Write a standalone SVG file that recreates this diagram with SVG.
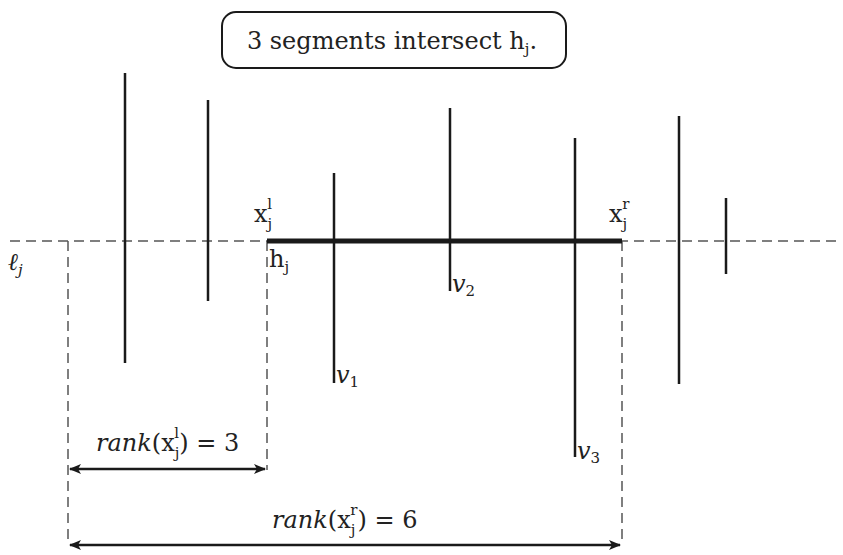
<svg xmlns="http://www.w3.org/2000/svg" width="843" height="555" viewBox="0 0 843 555">
<defs>
<marker id="ah" viewBox="0 0 12 10" refX="11" refY="5" markerWidth="12" markerHeight="10" markerUnits="userSpaceOnUse" orient="auto-start-reverse">
<path d="M0,0 L12,5 L0,10 L3,5 Z" fill="#1a1a1a"/>
</marker>
</defs>
<style>
text{font-family:"DejaVu Serif","Liberation Serif",serif;fill:#222;font-size:24px}
.it{font-style:italic}
.sub{font-size:15px}
.seg{stroke:#1a1a1a;stroke-width:2.5}
.dash{stroke:#555;stroke-width:1.5;stroke-dasharray:10,6;fill:none}
.arr{stroke:#1a1a1a;stroke-width:2.5;fill:none}
</style>
<rect width="843" height="555" fill="#fff"/>
<g id="label-box">
<rect x="222" y="12" width="344" height="56" rx="14" fill="#fff" stroke="#1a1a1a" stroke-width="2"/>
<text x="392" y="49" text-anchor="middle">3 segments intersect h<tspan class="sub" dy="5">j</tspan><tspan dy="-5">.</tspan></text>
</g>
<g id="connectors">
<line class="dash" x1="10" y1="241" x2="838" y2="241"/>
<line class="dash" x1="68" y1="241" x2="68" y2="545"/>
<line class="dash" x1="267" y1="241" x2="267" y2="470"/>
<line class="dash" x1="622" y1="241" x2="622" y2="545"/>
<line class="arr" x1="70" y1="469" x2="265" y2="469" marker-start="url(#ah)" marker-end="url(#ah)"/>
<line class="arr" x1="70" y1="545" x2="620" y2="545" marker-start="url(#ah)" marker-end="url(#ah)"/>
</g>
<g id="h-j">
<line x1="267" y1="241" x2="622" y2="241" stroke="#1a1a1a" stroke-width="5"/>
</g>
<g id="segments">
<line class="seg" x1="125" y1="73" x2="125" y2="363"/>
<line class="seg" x1="208" y1="100" x2="208" y2="301"/>
<line class="seg" x1="334" y1="173" x2="334" y2="383"/>
<line class="seg" x1="450" y1="108" x2="450" y2="291"/>
<line class="seg" x1="575" y1="138" x2="575" y2="457"/>
<line class="seg" x1="679" y1="116" x2="679" y2="384"/>
<line class="seg" x1="726" y1="198" x2="726" y2="274"/>
</g>
<g id="labels">
<text x="8" y="270" class="it">ℓ<tspan class="sub" dy="5">j</tspan></text>
<text x="254" y="222">x<tspan class="sub" dy="7">j</tspan><tspan class="sub" dx="-5" dy="-20">l</tspan></text>
<text x="269" y="267">h<tspan class="sub" dy="5">j</tspan></text>
<text x="336" y="383" class="it">v<tspan class="sub" dy="4" font-style="normal">1</tspan></text>
<text x="452" y="292" class="it">v<tspan class="sub" dy="4" font-style="normal">2</tspan></text>
<text x="577" y="459" class="it">v<tspan class="sub" dy="4" font-style="normal">3</tspan></text>
<text x="609" y="222">x<tspan class="sub" dy="7">j</tspan><tspan class="sub" dx="-5" dy="-20">r</tspan></text>
<text x="96" y="451"><tspan class="it">rank</tspan>(x<tspan class="sub" dy="7">j</tspan><tspan class="sub" dx="-5" dy="-20">l</tspan><tspan dy="13">) = 3</tspan></text>
<text x="272" y="528"><tspan class="it">rank</tspan>(x<tspan class="sub" dy="7">j</tspan><tspan class="sub" dx="-5" dy="-20">r</tspan><tspan dy="13">) = 6</tspan></text>
</g>
</svg>
